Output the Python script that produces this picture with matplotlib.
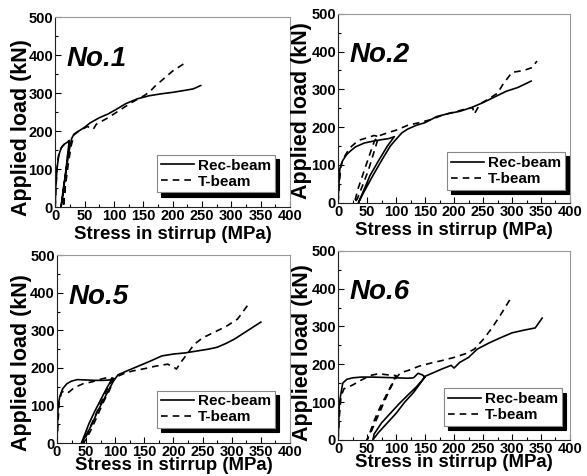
import numpy as np
import matplotlib
matplotlib.use('Agg')
import matplotlib.pyplot as plt
from matplotlib.ticker import MultipleLocator

# global font setup (Arial-like bold)
plt.rcParams['font.family'] = ['Liberation Sans', 'DejaVu Sans']
plt.rcParams['font.weight'] = 'bold'
plt.rcParams['axes.labelweight'] = 'bold'

# ---------------- data: stress in stirrup [MPa] vs applied load [kN] ----------------
# No.1
rec1_s = [0, 1, 3, 6, 10, 15, 20, 24, 21, 17, 13, 10, 14, 19, 24, 28, 32, 40, 50, 60, 75,
          90, 105, 120, 140, 160, 180, 200, 220, 235, 248]
rec1_L = [0, 50, 100, 135, 155, 165, 170, 175, 135, 80, 30, 0, 50, 100, 150, 180, 192, 200,
          210, 222, 235, 245, 258, 272, 285, 293, 298, 302, 307, 311, 320]
t1_s = [0, 2, 4, 7, 12, 18, 24, 21, 17, 14, 17, 22, 27, 32, 40, 55, 65, 70, 90, 110, 130,
        150, 160, 170, 185, 200, 212, 222]
t1_L = [0, 70, 120, 145, 160, 168, 175, 130, 60, 0, 50, 110, 160, 190, 200, 212, 205, 218,
        235, 255, 275, 292, 302, 318, 338, 358, 370, 380]

# No.2
rec2_s = [0, 1, 3, 8, 15, 22, 30, 45, 60, 75, 88, 97, 85, 70, 55, 42, 35, 45, 60, 75, 90,
          100, 110, 120, 135, 150, 170, 190, 210, 230, 250, 270, 290, 310, 325, 333]
rec2_L = [0, 40, 90, 112, 128, 138, 148, 158, 163, 167, 170, 175, 150, 112, 72, 25, 0, 30,
          72, 112, 150, 168, 185, 195, 205, 212, 228, 236, 242, 252, 265, 280, 295, 305, 316, 322]
t2_s = [0, 2, 5, 10, 20, 35, 50, 62, 70, 65, 60, 52, 42, 33, 28, 35, 45, 55, 63, 72, 85, 100,
        120, 140, 160, 180, 200, 220, 232, 235, 245, 260, 275, 285, 300, 320, 335, 343]
t2_L = [0, 50, 100, 120, 145, 165, 172, 178, 175, 150, 125, 85, 45, 10, 0, 40, 85, 130, 165,
        178, 185, 192, 205, 212, 220, 232, 240, 248, 252, 235, 262, 275, 290, 315, 345, 350, 358, 375]

# No.5
rec5_s = [0, 1, 2, 5, 10, 17, 25, 35, 50, 65, 80, 90, 95, 85, 75, 65, 55, 47, 42, 50, 60, 70,
          80, 90, 97, 105, 120, 140, 160, 180, 200, 220, 240, 260, 275, 290, 305, 320, 335, 350]
rec5_L = [0, 50, 100, 125, 145, 158, 165, 169, 168, 167, 167, 168, 172, 145, 115, 85, 52, 20,
          0, 20, 50, 85, 115, 145, 165, 182, 192, 205, 218, 232, 237, 240, 245, 250, 255, 265,
          277, 292, 307, 322]
t5_s = [0, 2, 4, 8, 14, 20, 30, 45, 60, 75, 88, 98, 90, 80, 70, 60, 50, 45, 52, 62, 72, 82,
        92, 100, 115, 130, 150, 170, 190, 200, 205, 215, 225, 235, 250, 270, 290, 310, 328]
t5_L = [0, 60, 110, 135, 140, 135, 148, 158, 163, 170, 175, 172, 140, 110, 75, 40, 10, 0, 25,
        60, 95, 130, 160, 175, 185, 192, 198, 205, 210, 203, 197, 220, 240, 262, 280, 295, 310,
        330, 368]

# No.6
rec6_s = [0, 1, 2, 4, 8, 15, 25, 40, 60, 80, 100, 120, 130, 138, 145, 150, 135, 120, 105, 90,
          75, 62, 60, 70, 85, 100, 115, 130, 142, 150, 165, 180, 195, 200, 210, 218, 225, 240,
          260, 280, 300, 320, 340, 352]
rec6_L = [0, 40, 90, 115, 150, 160, 164, 166, 166, 165, 164, 163, 164, 176, 172, 166, 140, 118,
          95, 70, 45, 15, 0, 20, 45, 70, 100, 125, 150, 168, 178, 188, 197, 190, 205, 212, 218,
          240, 256, 270, 283, 290, 296, 322]
t6_s = [0, 2, 5, 10, 15, 25, 40, 55, 70, 85, 100, 92, 82, 72, 62, 54, 50, 58, 68, 78, 88, 98,
        108, 120, 140, 160, 180, 200, 220, 235, 250, 265, 280, 290, 300]
t6_L = [0, 60, 115, 135, 138, 145, 158, 170, 175, 172, 170, 145, 115, 85, 50, 15, 0, 25, 60,
        95, 130, 160, 178, 183, 195, 203, 210, 218, 228, 240, 265, 295, 330, 355, 380]

names = ['No.1', 'No.2', 'No.5', 'No.6']
rec_s = [rec1_s, rec2_s, rec5_s, rec6_s]
rec_L = [rec1_L, rec2_L, rec5_L, rec6_L]
t_s = [t1_s, t2_s, t5_s, t6_s]
t_L = [t1_L, t2_L, t5_L, t6_L]

# panel positions [left, bottom, width, height] (figure fraction)
pos = [[0.094, 0.565, 0.400, 0.399],
       [0.576, 0.574, 0.395, 0.397],
       [0.097, 0.069, 0.397, 0.395],
       [0.576, 0.076, 0.395, 0.397]]
leg_anchor = [(0.936, 0.077), (0.978, 0.069), (0.936, 0.08), (0.966, 0.074)]
xlab_y = [-0.10, -0.10, -0.075, -0.075]
ylab_x = [-0.098, -0.112, -0.107, -0.108]
ylab_y = [0.42, 0.49, 0.43, 0.46]

# PLOTTING
fig = plt.figure(figsize=(5.87, 4.76), dpi=100)

for i in range(4):
    ax = fig.add_axes(pos[i])
    ax.plot(rec_s[i], rec_L[i], color='k', lw=1.2, label='Rec-beam')
    ax.plot(t_s[i], t_L[i], color='k', lw=1.2, ls=(0, (4, 3)), label='T-beam')

    ax.set_xlim(0, 400)
    ax.set_ylim(0, 500)
    ax.xaxis.set_major_locator(MultipleLocator(50))
    ax.xaxis.set_minor_locator(MultipleLocator(25))
    ax.yaxis.set_major_locator(MultipleLocator(100))
    ax.yaxis.set_minor_locator(MultipleLocator(50))
    ax.tick_params(which='both', direction='in', labelsize=10.5, pad=1.5, width=0.8)
    ax.tick_params(which='major', length=4)
    ax.tick_params(which='minor', length=2)
    for lab in ax.get_xticklabels() + ax.get_yticklabels():
        lab.set_fontweight('bold')

    ax.spines['left'].set_color('#222222')
    ax.spines['bottom'].set_color('#222222')
    ax.spines['top'].set_color('#999999')
    ax.spines['right'].set_color('#999999')

    ax.set_xlabel('Stress in stirrup (MPa)', fontsize=13.4)
    ax.set_ylabel('Applied load (kN)', fontsize=15.5)
    ax.xaxis.set_label_coords(0.5, xlab_y[i])
    ax.yaxis.set_label_coords(ylab_x[i], ylab_y[i])

    ax.text(0.05, 0.78, names[i], transform=ax.transAxes, fontsize=20,
            fontweight='bold', fontstyle='italic', ha='left', va='center')

    leg = ax.legend(loc='lower right', bbox_to_anchor=leg_anchor[i], borderaxespad=0,
                    fancybox=False, fontsize=11, handlelength=2.2, handletextpad=0.25,
                    labelspacing=0.12, borderpad=0.25,
                    shadow={'ox': 3, 'oy': -3, 'shade': 1.0, 'alpha': 1})
    leg.get_frame().set_edgecolor('#888888')
    leg.get_frame().set_linewidth(0.8)

plt.savefig('out.png', dpi=100)
